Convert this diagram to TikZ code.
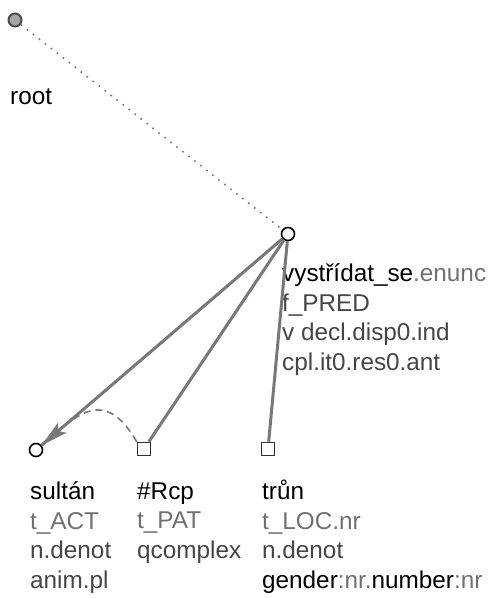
\documentclass[tikz,border=0pt]{standalone}
\usepackage{fontspec}
\setmainfont{Liberation Sans}
\usetikzlibrary{arrows.meta}

\definecolor{edgegray}{HTML}{787878}
\definecolor{lightlbl}{HTML}{707070}
\definecolor{darklbl}{HTML}{454545}

\begin{document}
\begin{tikzpicture}[x=1pt, y=-1pt,
    tnode/.style={draw=black, fill=white, circle, line width=1.6pt, minimum size=13pt, inner sep=0pt},
    tsq/.style={draw=black!80, fill=white, rectangle, line width=1.6pt, minimum size=13pt, inner sep=0pt},
    edge/.style={draw=edgegray, line width=3pt},
    coref/.style={draw=edgegray, line width=1.6pt, dash pattern=on 7pt off 5pt},
    lbl/.style={anchor=base west, align=left, inner sep=0pt,
        font=\fontsize{24.3}{29.5}\selectfont, text=darklbl}]
    \useasboundingbox (0,0) rectangle (488,598);

    % technical root and the predicate
    \node[draw=black!70, fill=black!35, circle, line width=2pt, minimum size=13pt, inner sep=0pt] (root) at (15,20) {};
    \node[tnode] (vystridat) at (288,234) {};

    % dependents
    \node[tnode] (sultan) at (36,450) {};
    \node[tsq] (rcp) at (144,449) {};
    \node[tsq] (trun) at (268,449) {};

    % labels (placed by the baseline of their last line)
    \node[lbl, text=black] (root-lbl) at (10,104) {root};
    \node[lbl] (vystridat-lbl) at (282,370) {{\color{black}vystřídat\_se}{\color{lightlbl}.enunc}\\f\_PRED\\v decl.disp0.ind\\cpl.it0.res0.ant};
    \node[lbl] (sultan-lbl) at (30,588) {{\color{black}sultán}\\{\color{lightlbl}t\_ACT}\\n.denot\\anim.pl};
    \node[lbl] (rcp-lbl) at (137,558) {{\color{black}\#Rcp}\\{\color{lightlbl}t\_PAT}\\qcomplex};
    \node[lbl] (trun-lbl) at (262,588) {{\color{black}trůn}\\{\color{lightlbl}t\_LOC.nr}\\n.denot\\{\color{black}gender}{\color{lightlbl}:nr.}{\color{black}number}{\color{lightlbl}:nr}};

    % root link
    \draw[edgegray, line width=1.6pt, dash pattern=on 1.6pt off 6pt] (root) -- (vystridat);

    % dependency edges
    \draw[edge] (vystridat) -- (sultan);
    \draw[edge] (vystridat) -- (rcp);
    \draw[edge] (vystridat) -- (trun);

    % coreference of #Rcp
    \draw[coref, -{Stealth[length=27pt, width=13pt, inset=5pt]}] (rcp.north west) .. controls (108,392) and (82.8,410.3) .. (sultan);
\end{tikzpicture}
\end{document}
